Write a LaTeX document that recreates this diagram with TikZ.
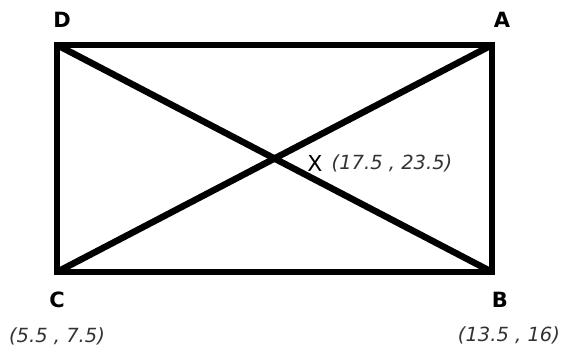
\documentclass[tikz,border=0pt]{standalone}
\usepackage{fontspec}
\setmainfont{DejaVu Sans}
\begin{document}
\begin{tikzpicture}[x=1pt,y=-1pt,
  edge/.style={line width=6.5pt,line join=miter},
  corner/.style={font=\fontsize{21}{23}\selectfont\bfseries,text=black,inner sep=0pt},
  midlabel/.style={font=\fontsize{22}{24}\selectfont,text=black,inner sep=0pt},
  coordtext/.style={font=\fontsize{19.5}{21}\selectfont\itshape,text=black!80,inner sep=0pt}]
\useasboundingbox (0,0) rectangle (566,353);
\coordinate (A) at (492,45);
\coordinate (B) at (492,272);
\coordinate (C) at (57,272);
\coordinate (D) at (57,45);
\draw[edge] (D) -- (A) -- (B) -- (C) -- cycle;
\draw[edge] (D) -- (B);
\draw[edge] (C) -- (A);
\node[corner] (lD) at (62,20) {D};
\node[corner] (lA) at (502,20) {A};
\node[corner] (lC) at (57,300) {C};
\node[corner] (lB) at (500,300) {B};
\node[midlabel] (lX) at (315,163) {X};
\node[coordtext] (cX) at (392,163) {(17.5 , 23.5)};
\node[coordtext] (cC) at (57,336) {(5.5 , 7.5)};
\node[coordtext] (cB) at (509,335) {(13.5 , 16)};
\end{tikzpicture}
\end{document}
